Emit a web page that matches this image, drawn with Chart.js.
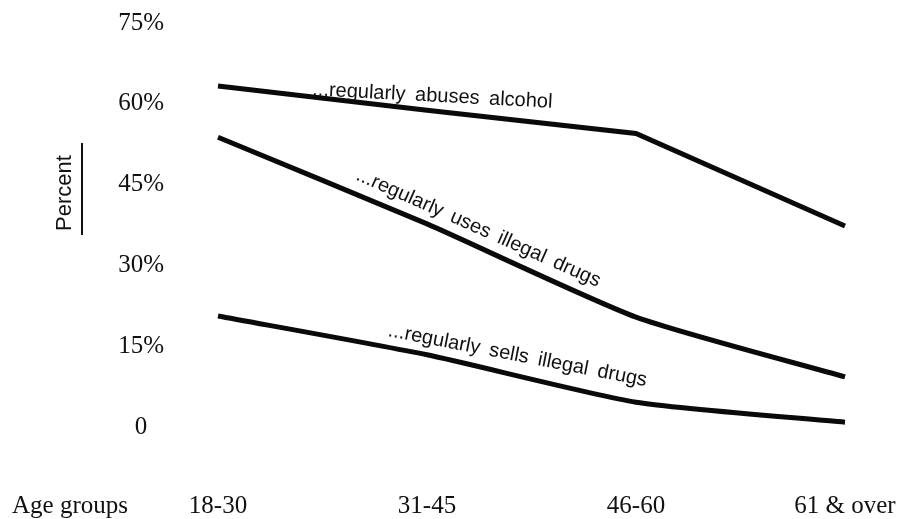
<!DOCTYPE html>
<html>
<head>
<meta charset="utf-8">
<script src="https://cdn.jsdelivr.net/npm/chart.js@4.4.1/dist/chart.umd.min.js"></script>
<style>
  html, body { margin: 0; padding: 0; background: #fff; }
  #wrap { width: 921px; height: 519px; }
</style>
</head>
<body>
<div id="wrap"><canvas id="ageChart" width="921" height="519"></canvas></div>
<script>
var ageGroups = ['18-30', '31-45', '46-60', '61 & over'];
var abusesAlcohol = [63.3, 58.8, 54.5, 37.3];
var usesIllegalDrugs = [53.8, 37.7, 20.4, 9.3];
var sellsIllegalDrugs = [20.6, 13.4, 4.6, 0.9];
var percentTicks = [0, 15, 30, 45, 60, 75];

var serif = '"Liberation Serif", "Times New Roman", serif';
var sans = '"Liberation Sans", Arial, sans-serif';

// text that runs along each line, placed at (category index, percent)
var lineNotes = [
  { text: '...regularly abuses alcohol', at: [0.45, 61.6], angle: 3 },
  { text: '...regularly uses illegal drugs', at: [0.655, 46.0], angle: 24 },
  { text: '...regularly sells illegal drugs', at: [0.81, 16.9], angle: 11 }
];

var notesPlugin = {
  id: 'notes',
  afterDatasetsDraw: function (chart) {
    var ctx = chart.ctx;
    var x = chart.scales.x, y = chart.scales.y;
    ctx.save();
    ctx.fillStyle = '#111';
    ctx.font = '20px ' + sans;
    if ('wordSpacing' in ctx) ctx.wordSpacing = '4px';
    ctx.textAlign = 'left';
    ctx.textBaseline = 'alphabetic';
    lineNotes.forEach(function (n) {
      ctx.save();
      ctx.translate(x.getPixelForValue(n.at[0]), y.getPixelForValue(n.at[1]));
      ctx.rotate(n.angle * Math.PI / 180);
      ctx.fillText(n.text, 0, 0);
      ctx.restore();
    });
    if ('wordSpacing' in ctx) ctx.wordSpacing = '0px';

    // y title with its underline
    ctx.save();
    ctx.translate(65, 193);
    ctx.rotate(-Math.PI / 2);
    ctx.font = '22px ' + sans;
    ctx.textAlign = 'center';
    ctx.textBaseline = 'middle';
    ctx.fillText('Percent', 0, 0);
    ctx.restore();
    ctx.strokeStyle = '#111';
    ctx.lineWidth = 2;
    ctx.beginPath();
    ctx.moveTo(82, 143);
    ctx.lineTo(82, 235);
    ctx.stroke();

    // x axis caption, on the tick label row
    ctx.font = '25px ' + serif;
    ctx.textAlign = 'left';
    ctx.textBaseline = 'middle';
    ctx.fillText('Age groups', 12, x.top + 66.5 + 12.5);
    ctx.restore();
  }
};

function lineSet(label, data, tension) {
  return {
    label: label,
    data: data,
    borderColor: '#0a0a0a',
    borderWidth: 5,
    pointRadius: 0,
    fill: false,
    tension: tension
  };
}

var ageChart = new Chart(document.getElementById('ageChart'), {
  type: 'line',
  data: {
    labels: ageGroups,
    datasets: [
      lineSet('regularly abuses alcohol', abusesAlcohol, 0),
      lineSet('regularly uses illegal drugs', usesIllegalDrugs, 0.2),
      lineSet('regularly sells illegal drugs', sellsIllegalDrugs, 0.2)
    ]
  },
  options: {
    responsive: false,
    animation: false,
    layout: { padding: { top: 23, left: 118, right: 76, bottom: 0 } },
    plugins: {
      legend: { display: false },
      tooltip: { enabled: false }
    },
    scales: {
      x: {
        offset: false,
        afterFit: function (scale) {
          scale.height = 92;
          scale.paddingLeft = 0;
          scale.paddingRight = 0;
        },
        grid: { display: false, drawTicks: false },
        border: { display: false },
        ticks: {
          color: '#111',
          padding: 66.5,
          maxRotation: 0,
          font: { family: serif, size: 25, lineHeight: 1 }
        }
      },
      y: {
        min: 0,
        max: 75,
        afterFit: function (scale) {
          scale.width = 100;
          scale.paddingTop = 0;
          scale.paddingBottom = 0;
        },
        afterBuildTicks: function (scale) {
          scale.ticks = percentTicks.map(function (v) { return { value: v }; });
        },
        grid: { display: false, drawTicks: false },
        border: { display: false },
        ticks: {
          color: '#111',
          padding: 54,
          crossAlign: 'center',
          font: { family: serif, size: 25, lineHeight: 1.2 },
          callback: function (v) { return v === 0 ? '0' : v + '%'; }
        }
      }
    }
  },
  plugins: [notesPlugin]
});
</script>
</body>
</html>
